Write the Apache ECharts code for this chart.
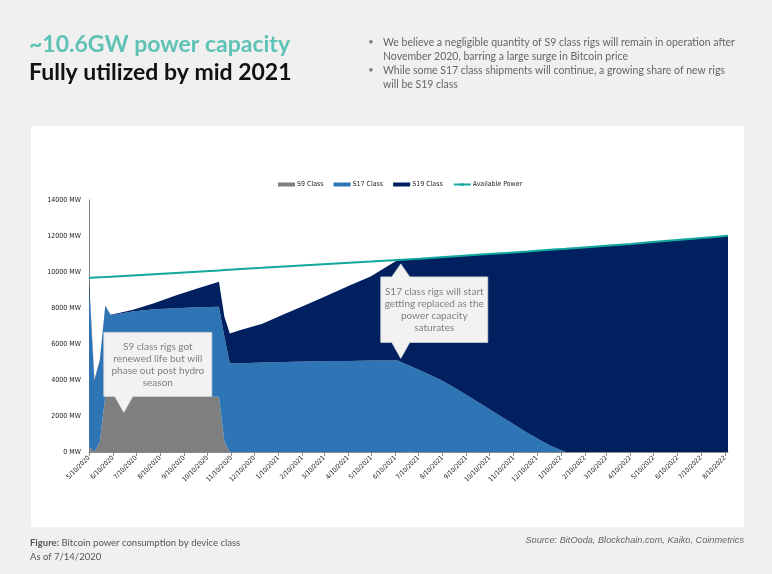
<!DOCTYPE html>
<html><head><meta charset="utf-8">
<style>html,body{margin:0;padding:0;background:#f0f0f0;}#c{width:772px;height:574px;}</style>
<script src="https://cdn.jsdelivr.net/npm/echarts@6/dist/echarts.min.js"></script>
</head><body><div id="c"></div>
<script>
// ---- data ----
const dates = ['2020-05-10','2020-05-17','2020-05-24','2020-05-31','2020-06-07','2020-07-05','2020-08-02','2020-08-30','2020-09-27','2020-10-25','2020-11-01','2020-11-08','2020-11-22','2020-12-20','2021-01-17','2021-02-14','2021-03-14','2021-04-11','2021-05-09','2021-06-13','2021-07-11','2021-08-08','2021-09-05','2021-10-03','2021-10-31','2021-11-28','2021-12-26','2022-01-16','2022-02-13','2022-03-13','2022-04-10','2022-05-08','2022-06-05','2022-07-03','2022-07-31','2022-08-14'];
const s9 = [300,0,570,3070,3070,3070,3070,3070,3070,3070,600,0,0,0,0,0,0,0,0,0,0,0,0,0,0,0,0,0,0,0,0,0,0,0,0,0];
const s17 = [8900,3900,4530,5030,4530,4730,4860,4920,4970,5000,5800,4930,4930,4970,5000,5030,5050,5060,5080,5090,4550,4000,3300,2550,1800,1050,380,0,0,0,0,0,0,0,0,0];
const s19 = [350,100,30,30,30,90,330,710,1040,1390,1120,1660,1850,2150,2650,3140,3650,4170,4670,5580,6190,6820,7600,8430,9260,10090,10850,11290,11380,11470,11560,11660,11760,11860,11960,12010];
const availablePower = [9670,9690,9710,9720,9740,9810,9880,9950,10020,10090,10110,10130,10170,10230,10300,10370,10440,10510,10580,10670,10740,10820,10900,10980,11060,11140,11230,11290,11380,11470,11560,11660,11760,11860,11960,12010];
const seriesNames = ['S9 Class','S17 Class','S19 Class','Available Power'];
const xTickLabels = ['5/10/2020','6/10/2020','7/10/2020','8/10/2020','9/10/2020','10/10/2020','11/10/2020','12/10/2020','1/10/2021','2/10/2021','3/10/2021','4/10/2021','5/10/2021','6/10/2021','7/10/2021','8/10/2021','9/10/2021','10/10/2021','11/10/2021','12/10/2021','1/10/2022','2/10/2022','3/10/2022','4/10/2022','5/10/2022','6/10/2022','7/10/2022','8/10/2022'];
const yMin = 0, yMax = 14000, yStep = 2000;

// ---- helpers ----
function isoTs(s){const p=s.split('-').map(Number);return new Date(p[0],p[1]-1,p[2]).getTime();}
function usTs(s){const p=s.split('/').map(Number);return new Date(p[2],p[0]-1,p[1]).getTime();}
const ts = dates.map(isoTs);
const tickTs = xTickLabels.map(usTs);
function labelFor(v){let best=-1,bd=Infinity;tickTs.forEach((t,i)=>{const d=Math.abs(t-v);if(d<bd){bd=d;best=i;}});return bd<86400000?xTickLabels[best]:'';}
// value first, time second (so the stack runs on the value dimension)
const pair = arr => arr.map((v,i)=>[v,ts[i]]);

const NARROW = "'Liberation Sans Narrow','DejaVu Sans Condensed','Arial Narrow',sans-serif";
const BODY = "Lato,'Noto Sans',sans-serif";

const chart = echarts.init(document.getElementById('c'), null, {renderer:'canvas'});
const colors = ['#7f7f7f','#2e75b6','#002060','#13a89e'];

function area(name, data, color){
  return {name, type:'line', stack:'total', data:pair(data), encode:{x:1, y:0}, symbol:'none', showSymbol:false,
    lineStyle:{width:0, color}, itemStyle:{color}, areaStyle:{color, opacity:1}, z:2};
}

const option = {
  backgroundColor:'#f0f0f0',
  animation:false,
  color: colors,
  legend:{
    top:176, left:273, itemWidth:17, itemHeight:4, itemGap:10,
    textStyle:{fontFamily:NARROW, fontSize:7, color:'#222', padding:[0,0,0,-3]},
    data:[{name:seriesNames[0],icon:'rect'},{name:seriesNames[1],icon:'rect'},{name:seriesNames[2],icon:'rect'},{name:seriesNames[3]}]
  },
  grid:{left:89, right:44, top:200, bottom:122, containLabel:false},
  xAxis:{
    type:'value', min:ts[0], max:ts[ts.length-1],
    splitLine:{show:false},
    axisLine:{lineStyle:{color:'#8c8c8c', width:1}},
    axisTick:{show:true, length:4, customValues:tickTs, lineStyle:{color:'#8c8c8c'}},
    axisLabel:{customValues:tickTs, rotate:45, fontFamily:NARROW, fontSize:6.5, color:'#222', margin:5,
      formatter:v=>labelFor(v), showMinLabel:true, showMaxLabel:true, hideOverlap:false}
  },
  yAxis:{
    type:'value', min:yMin, max:yMax, interval:yStep,
    splitLine:{show:false},
    axisLine:{show:true, lineStyle:{color:'#7f7f7f', width:1}},
    axisTick:{show:false},
    axisLabel:{fontFamily:NARROW, fontSize:7, color:'#222', margin:8, formatter:v=>v+' MW'}
  },
  series:[
    area(seriesNames[0], s9, colors[0]),
    area(seriesNames[1], s17, colors[1]),
    area(seriesNames[2], s19, colors[2]),
    {name:seriesNames[3], type:'line', data:pair(availablePower), encode:{x:1, y:0}, symbol:'none', showSymbol:false,
      lineStyle:{width:2, color:colors[3]}, itemStyle:{color:colors[3]}, z:5}
  ]
};
chart.setOption(option);

function baseGraphics(){
  return [
    {id:'panel', type:'rect', shape:{x:31,y:126,width:713,height:401}, style:{fill:'#ffffff'}, z:-10, silent:true},
    {id:'t1', type:'text', x:29, y:33, style:{text:'~10.6GW power capacity', font:"bold 23px "+BODY, fill:'#5ec2b5'}},
    {id:'t2', type:'text', x:29, y:61, style:{text:'Fully utilized by mid 2021', font:"bold 23px "+BODY, fill:'#111111'}},
    {id:'b1', type:'text', x:368, y:37, style:{text:'•', font:"10px "+BODY, fill:'#7f7f7f'}},
    {id:'b1t', type:'text', x:383, y:36, style:{text:'We believe a negligible quantity of S9 class rigs will remain in operation after\nNovember 2020, barring a large surge in Bitcoin price', font:"10.5px "+BODY, fill:'#666666', lineHeight:14}},
    {id:'b2', type:'text', x:368, y:65, style:{text:'•', font:"10px "+BODY, fill:'#7f7f7f'}},
    {id:'b2t', type:'text', x:383, y:64, style:{text:'While some S17 class shipments will continue, a growing share of new rigs\nwill be S19 class', font:"10.5px "+BODY, fill:'#666666', lineHeight:14}},
    {id:'f1', type:'text', x:30, y:536, style:{text:'{b|Figure:} Bitcoin power consumption by device class\nAs of 7/14/2020', font:"9.5px "+BODY, fill:'#555555', lineHeight:14,
      rich:{b:{fontWeight:'bold', fontFamily:BODY, fontSize:9.5, fill:'#555555'}}}},
    {id:'src', type:'text', x:744, y:536, style:{text:'Source: BitOoda, Blockchain.com, Kaiko, Coinmetrics', font:"italic 9.2px 'Liberation Sans',Arial,sans-serif", fill:'#666666', align:'right'}}
  ];
}

function callouts(){
  const p = (d,v)=>chart.convertToPixel({xAxisIndex:0,yAxisIndex:0},[isoTs(d),v]);
  const boxFill = '#f2f2f2', boxStroke = '#d6d6d6';
  const txt = {font:"10px "+BODY, fill:'#808080', align:'center', verticalAlign:'middle', lineHeight:12};
  const a = p('2020-06-24', 2200);
  const L1=a[0]-20, R1=a[0]+88, T1=a[1]-80, B1=a[1]-16;
  const poly1=[[L1,T1],[R1,T1],[R1,B1],[a[0]+9,B1],[a[0],a[1]],[a[0]-9,B1],[L1,B1]];
  const up = p('2021-06-17', 10450), dn = p('2021-06-17', 5200);
  const L2=up[0]-20, R2=up[0]+87, T2=up[1]+13, B2=dn[1]-16;
  const poly2=[[L2,T2],[up[0]-9,T2],[up[0],up[1]],[up[0]+9,T2],[R2,T2],[R2,B2],[dn[0]+9,B2],[dn[0],dn[1]],[dn[0]-9,B2],[L2,B2]];
  return [
    {id:'c1', type:'polygon', shape:{points:poly1}, style:{fill:boxFill, stroke:boxStroke, lineWidth:0.8}, z:50},
    {id:'c1t', type:'text', x:(L1+R1)/2, y:(T1+B1)/2, style:Object.assign({text:'S9 class rigs got\nrenewed life but will\nphase out post hydro\nseason'},txt), z:51},
    {id:'c2', type:'polygon', shape:{points:poly2}, style:{fill:boxFill, stroke:boxStroke, lineWidth:0.8}, z:50},
    {id:'c2t', type:'text', x:(L2+R2)/2, y:(T2+B2)/2, style:Object.assign({text:'S17 class rigs will start\ngetting replaced as the\npower capacity\nsaturates'},txt), z:51}
  ];
}
chart.setOption({graphic: baseGraphics().concat(callouts())});
</script></body></html>
